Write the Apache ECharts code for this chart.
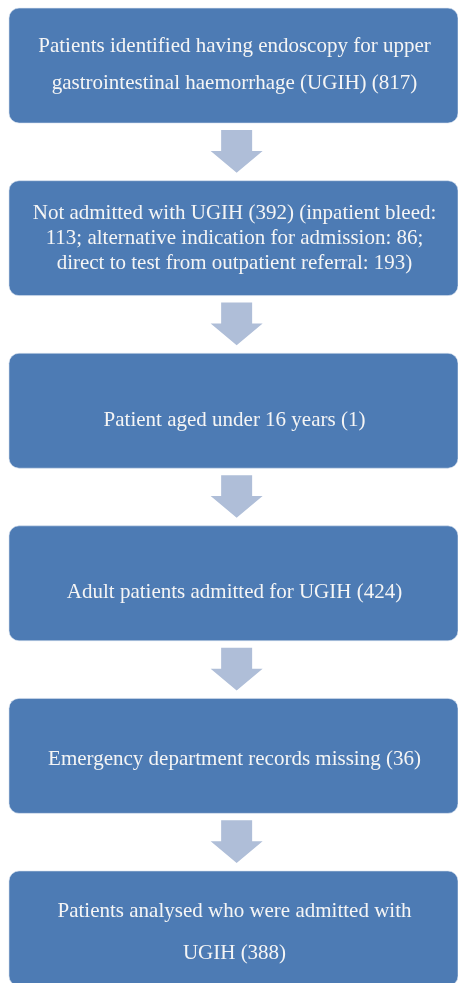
<!DOCTYPE html>
<html>
<head>
<meta charset="utf-8">
<script src="https://cdn.jsdelivr.net/npm/echarts@6/dist/echarts.min.js"></script>
<style>
html, body { margin: 0; padding: 0; background: #fff; }
#chart { width: 458px; height: 983px; }
</style>
</head>
<body>
<div id="chart"></div>
<script>
// 流程图各步骤文字（按原图换行）
var stepTexts = [
    'Patients identified having endoscopy for upper\ngastrointestinal haemorrhage (UGIH) (817)',
    'Not admitted with UGIH (392) (inpatient bleed:\n113; alternative indication for admission: 86;\ndirect to test from outpatient referral: 193)',
    'Patient aged under 16 years (1)',
    'Adult patients admitted for UGIH (424)',
    'Emergency department records missing (36)',
    'Patients analysed who were admitted with\nUGIH (388)'
];
// 步骤序号
var stepIndex = [0, 1, 2, 3, 4, 5];

// 样式（每个框的行高与文字竖直偏移）
var lineHeights = [37, 25, 25, 25, 25, 42];
var textOffsets = [-1, 0, 10, 9, 4, 4];
var boxColor = '#4D7BB4';
var arrowColor = '#AFBED8';
var textColor = '#F5F5F5';
var halfBox = 0.333; // 框半高（y 轴单位）

var myChart = echarts.init(document.getElementById('chart'));

function renderItem(params, api) {
    var i = api.value(0);
    var tl = api.coord([0, i - halfBox]);
    var br = api.coord([1, i + halfBox]);
    var w = br[0] - tl[0];
    var h = br[1] - tl[1];
    var children = [{
        type: 'rect',
        shape: { x: tl[0], y: tl[1], width: w, height: h, r: 10 },
        style: { fill: boxColor, stroke: '#D6E0EE', lineWidth: 0.6 }
    }, {
        type: 'text',
        style: {
            text: stepTexts[i],
            x: tl[0] + w / 2 + 1,
            y: tl[1] + h / 2 + textOffsets[i],
            align: 'center',
            verticalAlign: 'middle',
            fontFamily: 'Liberation Serif',
            fontSize: 21,
            lineHeight: lineHeights[i],
            fill: textColor
        }
    }];
    // 箭头
    if (i < stepTexts.length - 1) {
        var nextTop = api.coord([0, i + 1 - halfBox])[1];
        var cx = tl[0] + w * 0.507;
        var y0 = br[1] + 7;
        var y2 = nextTop - 8;
        var y1 = y0 + (y2 - y0) * 0.49;
        children.push({
            type: 'polygon',
            shape: {
                points: [
                    [cx - 15.5, y0], [cx + 15.5, y0], [cx + 15.5, y1], [cx + 26, y1],
                    [cx, y2], [cx - 26, y1], [cx - 15.5, y1]
                ]
            },
            style: { fill: arrowColor }
        });
    }
    return { type: 'group', children: children };
}

var option = {
    animation: false,
    grid: { left: 9, right: 0, top: 0, bottom: 0 },
    xAxis: { type: 'value', min: 0, max: 1, show: false },
    yAxis: { type: 'value', min: -0.38, max: 5.316, inverse: true, show: false },
    series: [{
        type: 'custom',
        renderItem: renderItem,
        clip: false,
        data: stepIndex.map(function (v) { return [v]; })
    }]
};
myChart.setOption(option);
</script>
</body>
</html>
